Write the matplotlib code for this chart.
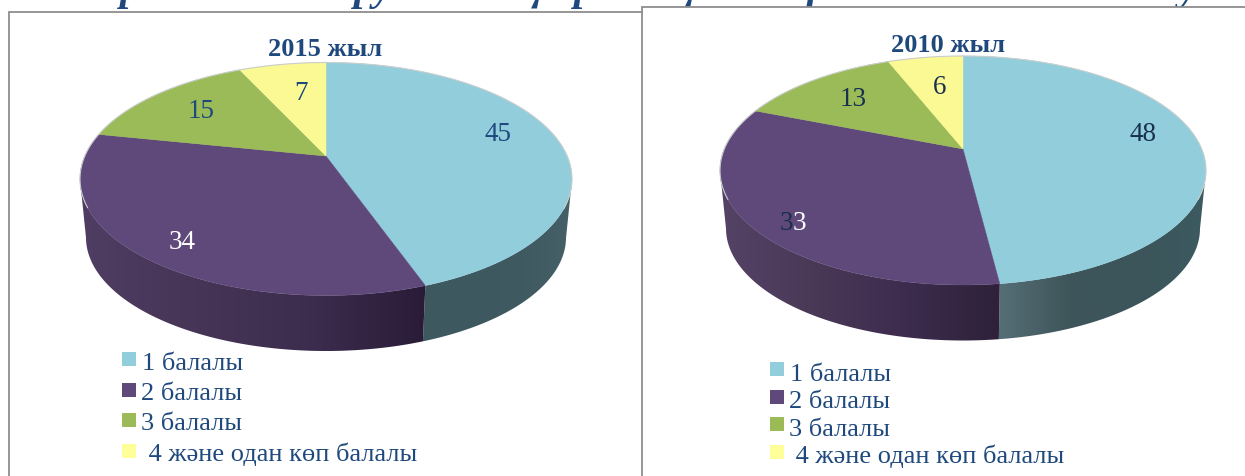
import numpy as np
import matplotlib
matplotlib.use("Agg")
import matplotlib.pyplot as plt
from matplotlib.colors import LinearSegmentedColormap
from matplotlib.patches import Rectangle, Polygon

categories = ["1 балалы", "2 балалы", "3 балалы", " 4 жəне одан көп балалы"]
values_2015 = [45, 34, 15, 7]
values_2010 = [48, 33, 13, 6]
titles = ["2015 жыл", "2010 жыл"]
top_colors = ["#92cddc", "#5f497a", "#9bbb59", "#fbf993"]
legend_colors = ["#92cddc", "#5f497a", "#9bbb59", "#ffff99"]
NAVY = "#1f497d"
FONT = "Liberation Serif"

fig = plt.figure(figsize=(12.45, 4.77), dpi=100, facecolor="white")
ax = fig.add_axes([0, 0, 1, 1])

# Cropped headline: only the descenders show above the frames
for x, s in [(120, "р"), (354, "ру"), (517, "қ"), (574, "р"), (670, "қ"), (807, "р"), (1178, "у")]:
    ax.text(x, 0, s, fontsize=30, family=FONT, weight="bold", style="italic",
            color=NAVY, va="baseline", ha="left", zorder=1)
ax.add_patch(Rectangle((8, 13), 634, 470, fc="white", ec="none", zorder=2))
ax.add_patch(Rectangle((642, 8), 610, 475, fc="white", ec="none", zorder=2))
ax.plot([8.5, 8.5, 642], [477, 13, 13], color="#8e8e8e", lw=1.3, zorder=3, solid_joinstyle="miter")
ax.plot([642, 642, 1245], [477, 8, 8], color="#8e8e8e", lw=1.3, zorder=3, solid_joinstyle="miter")


def project(theta, cx, cy, rx, ry, k):
    """Perspective view of a circle; theta runs clockwise from 12 o'clock."""
    x, y = np.sin(theta), np.cos(theta)
    w = 1 + k * y
    u = np.sqrt(1 - k * k) * x / w
    v = (y + k) / w
    return cx + rx * u, cy - ry * v


def draw_pie(values, cx, cy, rx, ry, k, depth, ry_low, blue_wall, purple_wall):
    fr = np.array(values, float) / sum(values)
    edges = np.concatenate([[0], np.cumsum(fr)]) * 2 * np.pi
    apex = (cx, cy - ry * k)
    walls = [blue_wall, purple_wall]
    # the visible wall belongs to the first two slices only
    for i in range(2):
        th = np.linspace(edges[i], edges[i + 1], 400)
        xt, yt = project(th, cx, cy, rx, ry, k)
        xb, yb = project(th, cx, cy + depth, rx - 6, ry_low, k)
        front = yt >= cy
        xt, yt, xb, yb = xt[front], yt[front], xb[front], yb[front]
        poly = Polygon(np.column_stack([np.r_[xt, xb[::-1]], np.r_[yt, yb[::-1]]]),
                       closed=True, fc="none", ec="none", transform=ax.transData)
        ax.add_patch(poly)
        x0, x1 = min(xt.min(), xb.min()), max(xt.max(), xb.max())
        cmap = LinearSegmentedColormap.from_list("w", walls[i])
        im = ax.imshow(np.linspace(0, 1, 256)[None, :], cmap=cmap, aspect="auto",
                       extent=[x0, x1, cy + depth + ry + 10, cy - ry - 10],
                       interpolation="bilinear", zorder=4)
        im.set_clip_path(poly)
    for i, c in enumerate(top_colors):
        th = np.linspace(edges[i], edges[i + 1], 180)
        xt, yt = project(th, cx, cy, rx, ry, k)
        ax.fill(np.r_[apex[0], xt], np.r_[apex[1], yt], color=c, lw=.3, zorder=5)
        rim = np.where(yt < cy + 30, yt, np.nan)
        ax.plot(xt, rim, color="#c9cdcd", lw=.8, zorder=6)


draw_pie(values_2015, 326, 180, 246, 116.5, .197, 58.5, 113.5,
         ["#3e5a60", "#3d585e", "#3f5a60", "#466068"],
         ["#4f3d63", "#463556", "#3c2c4e", "#2a1c38"])
draw_pie(values_2010, 963, 171.5, 243, 114.5, .188, 58, 112,
         ["#566e76", "#3e555a", "#3b555a", "#3c5a60"],
         ["#544366", "#493856", "#3d2c4e", "#2e2139"])


def label(x, y, s, color):
    ax.text(x, y + 2, s, fontsize=19.5, family=FONT, color=color, ha="center", va="center", zorder=8)


label(498, 133, str(values_2015[0]), NAVY)
label(182, 241, str(values_2015[1]), "white")
label(201, 110, str(values_2015[2]), NAVY)
label(301, 91, str(values_2015[3]), NAVY)
label(1143, 133, str(values_2010[0]), "#17304e")
s33 = str(values_2010[1])
label(786, 222, s33[0], "#17304e")
label(799, 222, s33[1], "white")
label(853, 97, str(values_2010[2]), "#17304e")
label(940, 86, str(values_2010[3]), "#17304e")

ax.text(325, 56, titles[0], fontsize=19, family=FONT, weight="bold", color=NAVY, ha="center", va="baseline", zorder=8)
ax.text(948.5, 52, titles[1], fontsize=19, family=FONT, weight="bold", color=NAVY, ha="center", va="baseline", zorder=8)

left_rows = [(353, 142, 370), (384, 141, 400), (414, 141, 430), (445, 142, 461)]
right_rows = [(363, 790, 381), (391, 789, 408), (418, 789, 436), (446, 789, 463)]
for sx, rows in [(122, left_rows), (770, right_rows)]:
    for cat, col, (sy, tx, by) in zip(categories, legend_colors, rows):
        ax.add_patch(Rectangle((sx, sy), 14, 14, fc=col, ec="none", zorder=8))
        ax.text(tx, by, cat, fontsize=19, family=FONT, color=NAVY, ha="left", va="baseline", zorder=8)

ax.set_xlim(0, 1245)
ax.set_ylim(477, 0)
ax.axis("off")
fig.savefig("out.png", dpi=100, facecolor="white")
